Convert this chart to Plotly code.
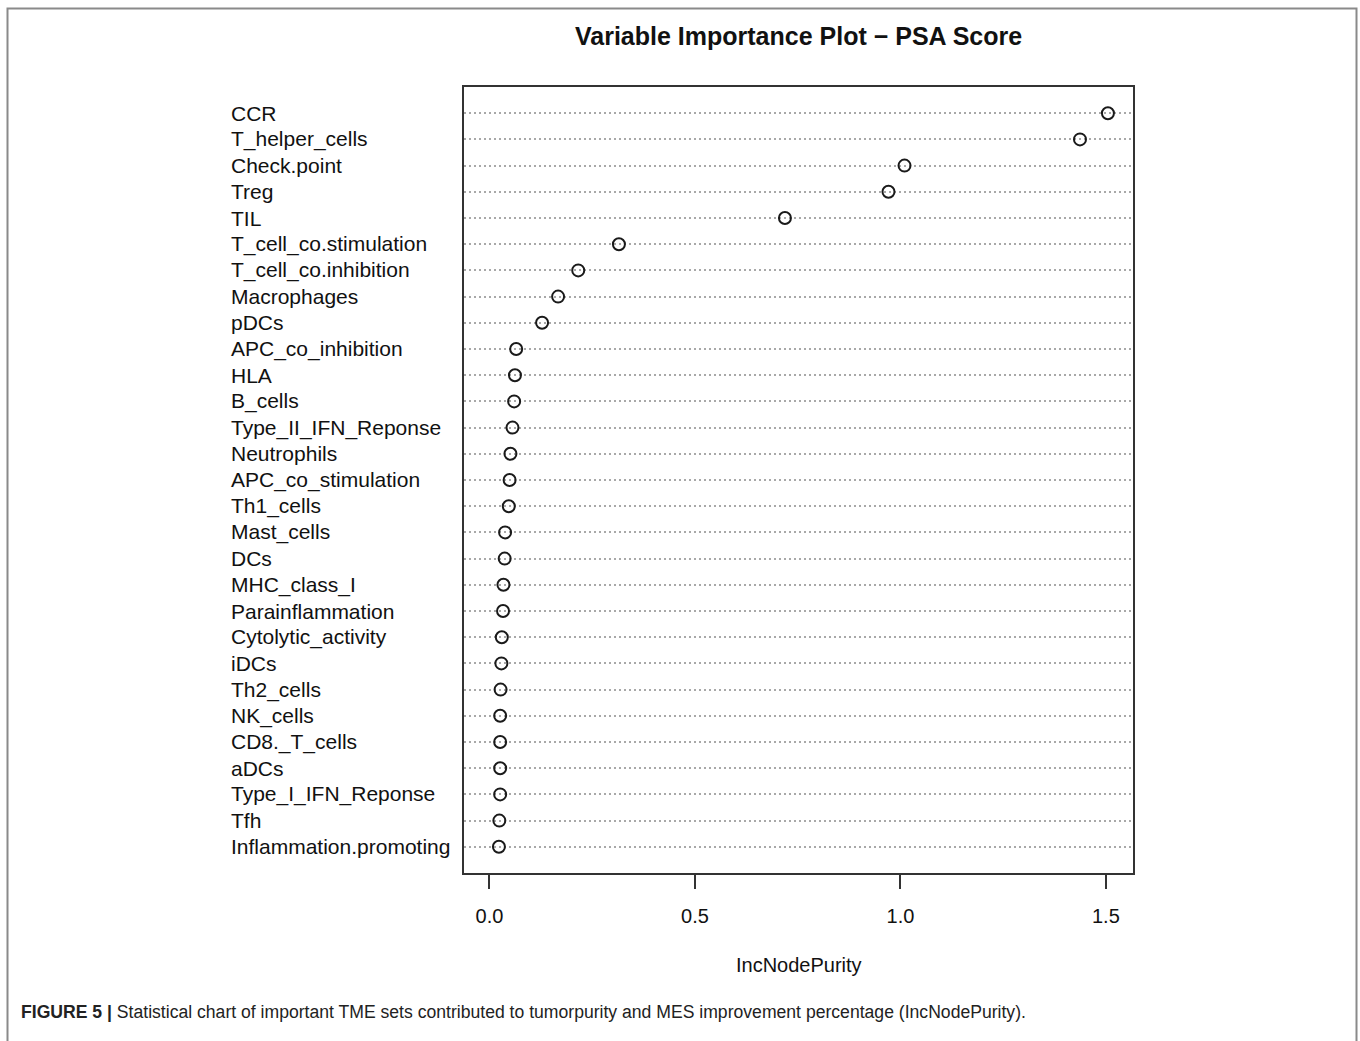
import plotly.graph_objects as go

# Variable importance (IncNodePurity) for each TME gene set, highest first
variables = [
    "CCR", "T_helper_cells", "Check.point", "Treg", "TIL",
    "T_cell_co.stimulation", "T_cell_co.inhibition", "Macrophages", "pDCs",
    "APC_co_inhibition", "HLA", "B_cells", "Type_II_IFN_Reponse",
    "Neutrophils", "APC_co_stimulation", "Th1_cells", "Mast_cells", "DCs",
    "MHC_class_I", "Parainflammation", "Cytolytic_activity", "iDCs",
    "Th2_cells", "NK_cells", "CD8._T_cells", "aDCs", "Type_I_IFN_Reponse",
    "Tfh", "Inflammation.promoting",
]
inc_node_purity = [
    1.505, 1.437, 1.010, 0.971, 0.719,
    0.315, 0.216, 0.167, 0.128,
    0.065, 0.062, 0.060, 0.056,
    0.051, 0.049, 0.047, 0.038, 0.037,
    0.034, 0.033, 0.030, 0.029,
    0.027, 0.026, 0.026, 0.026, 0.026,
    0.024, 0.023,
]
x_ticks = [0.0, 0.5, 1.0, 1.5]
x_tick_labels = ["0.0", "0.5", "1.0", "1.5"]

n = len(variables)
# dotchart layout: first variable on top row
row_pos = [n - i for i in range(n)]

W, H = 1360, 1041
L, R, T, B = 464, 1360 - 1133, 87, 1041 - 873
pw, ph = W - L - R, H - T - B

FONT = "Liberation Sans, Arial, Helvetica, sans-serif"

def px_to_paper_x(px):
    return (px - L) / pw

def px_to_paper_y(py):
    return (H - B - py) / ph

fig = go.Figure()
fig.add_trace(go.Scatter(
    x=inc_node_purity, y=row_pos, mode="markers",
    marker=dict(symbol="circle-open", size=12, color="#1a1a1a",
                line=dict(width=2, color="#1a1a1a")),
    hovertext=variables, showlegend=False,
))

# left-aligned variable names
for name, yv in zip(variables, row_pos):
    fig.add_annotation(
        x=px_to_paper_x(229), xref="paper", y=yv, yref="y",
        text=name, showarrow=False, xanchor="left", yanchor="middle",
        font=dict(family=FONT, size=21, color="#111111"),
    )

# x axis title
fig.add_annotation(
    x=0.5, xref="paper", y=px_to_paper_y(965), yref="paper",
    text="IncNodePurity", showarrow=False, xanchor="center", yanchor="middle",
    font=dict(family=FONT, size=20, color="#111111"),
)

# chart title
fig.add_annotation(
    x=0.5, xref="paper", y=px_to_paper_y(36), yref="paper",
    text="<b>Variable Importance Plot \u2212 PSA Score</b>", showarrow=False,
    xanchor="center", yanchor="middle",
    font=dict(family=FONT, size=25, color="#111111"),
)

# figure caption
fig.add_annotation(
    x=px_to_paper_x(19), xref="paper", y=px_to_paper_y(1012), yref="paper",
    text="<b>FIGURE 5 |</b> Statistical chart of important TME sets contributed to "
         "tumorpurity and MES improvement percentage (IncNodePurity).",
    showarrow=False, xanchor="left", yanchor="middle",
    font=dict(family=FONT, size=17.6, color="#222222"),
)

# outer figure frame
fig.add_shape(
    type="rect", xref="paper", yref="paper",
    x0=px_to_paper_x(7.5), x1=px_to_paper_x(1356.5),
    y0=px_to_paper_y(1060), y1=px_to_paper_y(8.5),
    line=dict(color="#8a8a8a", width=2), fillcolor="rgba(0,0,0,0)",
)

fig.update_xaxes(
    range=[-0.062, 1.566], tickvals=x_ticks, ticktext=x_tick_labels,
    ticks="outside", ticklen=14, tickwidth=1.5, tickcolor="#333333",
    showline=True, linecolor="#333333", linewidth=2, mirror=True,
    showgrid=False, zeroline=False, ticklabelstandoff=10,
    tickfont=dict(family=FONT, size=20, color="#111111"),
)
fig.update_yaxes(
    range=[0, n + 1], tickvals=row_pos, showticklabels=False, ticks="",
    showline=True, linecolor="#333333", linewidth=2, mirror=True,
    showgrid=True, gridcolor="#a8a8a8", gridwidth=1.5, griddash="1.5px,3.5px",
    zeroline=False,
)

fig.update_layout(
    width=W, height=H, autosize=False,
    margin=dict(l=L, r=R, t=T, b=B, pad=0),
    paper_bgcolor="white", plot_bgcolor="white",
    font=dict(family=FONT),
)

fig.write_html("out.html")
